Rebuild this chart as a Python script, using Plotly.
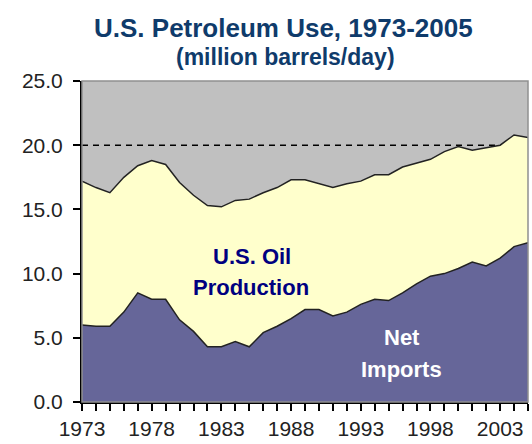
import plotly.graph_objects as go

years = list(range(1973, 2006))
net_imports = [6.0, 5.9, 5.9, 7.0, 8.5, 8.0, 8.0, 6.4, 5.5, 4.3, 4.3, 4.7, 4.3, 5.4, 5.9,
               6.5, 7.2, 7.2, 6.7, 7.0, 7.6, 8.0, 7.9, 8.5, 9.2, 9.8, 10.0, 10.4, 10.9,
               10.6, 11.2, 12.1, 12.4]
us_production = [11.2, 10.8, 10.4, 10.5, 9.9, 10.8, 10.5, 10.7, 10.6, 11.0, 10.9, 11.0, 11.5,
                 10.9, 10.8, 10.8, 10.1, 9.8, 10.0, 10.0, 9.6, 9.7, 9.8, 9.8, 9.4, 9.1,
                 9.5, 9.5, 8.7, 9.2, 8.8, 8.7, 8.2]
ytick_vals = [0, 5, 10, 15, 20, 25]
xtick_vals = [1973, 1978, 1983, 1988, 1993, 1998, 2003]
reference_level = 20

FONT = "Liberation Sans, Arial, sans-serif"

fig = go.Figure()
fig.add_trace(go.Scatter(x=years, y=net_imports, stackgroup="use", mode="lines",
                         line=dict(color="#222222", width=1.5),
                         fillcolor="#666699", name="Net Imports", hoverinfo="skip"))
fig.add_trace(go.Scatter(x=years, y=us_production, stackgroup="use", mode="lines",
                         line=dict(color="#222222", width=1.5),
                         fillcolor="#FFFFCC", name="U.S. Oil Production", hoverinfo="skip"))

fig.add_shape(type="line", xref="x", yref="y", x0=years[0], x1=years[-1],
              y0=reference_level, y1=reference_level, layer="below",
              line=dict(color="black", width=1.5, dash="6px,5px"))
fig.add_shape(type="rect", xref="paper", yref="paper", x0=0, x1=1, y0=0, y1=1,
              line=dict(color="#909090", width=1.5), layer="above")

fig.update_layout(
    width=532, height=444,
    margin=dict(l=82, r=4, t=81, b=42),
    paper_bgcolor="white", plot_bgcolor="#C0C0C0",
    showlegend=False,
    font=dict(family=FONT, size=21, color="#222222"),
)
fig.update_xaxes(range=[years[0], years[-1]], tickvals=xtick_vals,
                 ticks="outside", ticklen=7, tickwidth=1.5, tickcolor="black",
                 showline=True, linecolor="black", linewidth=2, showgrid=False,
                 zeroline=False,
                 minor=dict(dtick=1, tick0=1973, ticks="outside", ticklen=7,
                            tickwidth=1.5, tickcolor="black", showgrid=False),
                 tickfont=dict(size=21, color="#222222"))
fig.update_yaxes(range=[0, 25], tickvals=ytick_vals, tickformat=".1f",
                 ticks="outside", ticklen=7, tickwidth=1.5, tickcolor="black",
                 showline=True, linecolor="black", linewidth=2, showgrid=False,
                 zeroline=False, ticklabelstandoff=6,
                 tickfont=dict(size=21, color="#222222"))

fig.add_annotation(text="<b>U.S. Petroleum Use, 1973-2005</b>", xref="paper", yref="paper",
                   x=(283 - 82) / 446, y=1, yshift=81 - 28, yanchor="middle", xanchor="center",
                   showarrow=False, font=dict(family=FONT, size=26, color="#0F3B6B"))
fig.add_annotation(text="<b>(million barrels/day)</b>", xref="paper", yref="paper",
                   x=(285 - 82) / 446, y=1, yshift=81 - 57, yanchor="middle", xanchor="center",
                   showarrow=False, font=dict(family=FONT, size=23, color="#0F3B6B"))

fig.add_annotation(text="<b>U.S. Oil</b>", x=1985.2, y=11.3, showarrow=False,
                   font=dict(family=FONT, size=22, color="#000080"))
fig.add_annotation(text="<b>Production</b>", x=1985.1, y=8.9, showarrow=False,
                   font=dict(family=FONT, size=22, color="#000080"))
fig.add_annotation(text="<b>Net</b>", x=1995.95, y=5.0, showarrow=False,
                   font=dict(family=FONT, size=22, color="white"))
fig.add_annotation(text="<b>Imports</b>", x=1995.95, y=2.5, showarrow=False,
                   font=dict(family=FONT, size=22, color="white"))

fig.write_html("out.html", config={"displayModeBar": False},
               post_script="document.body.style.margin='0px';document.body.style.overflow='hidden';")
